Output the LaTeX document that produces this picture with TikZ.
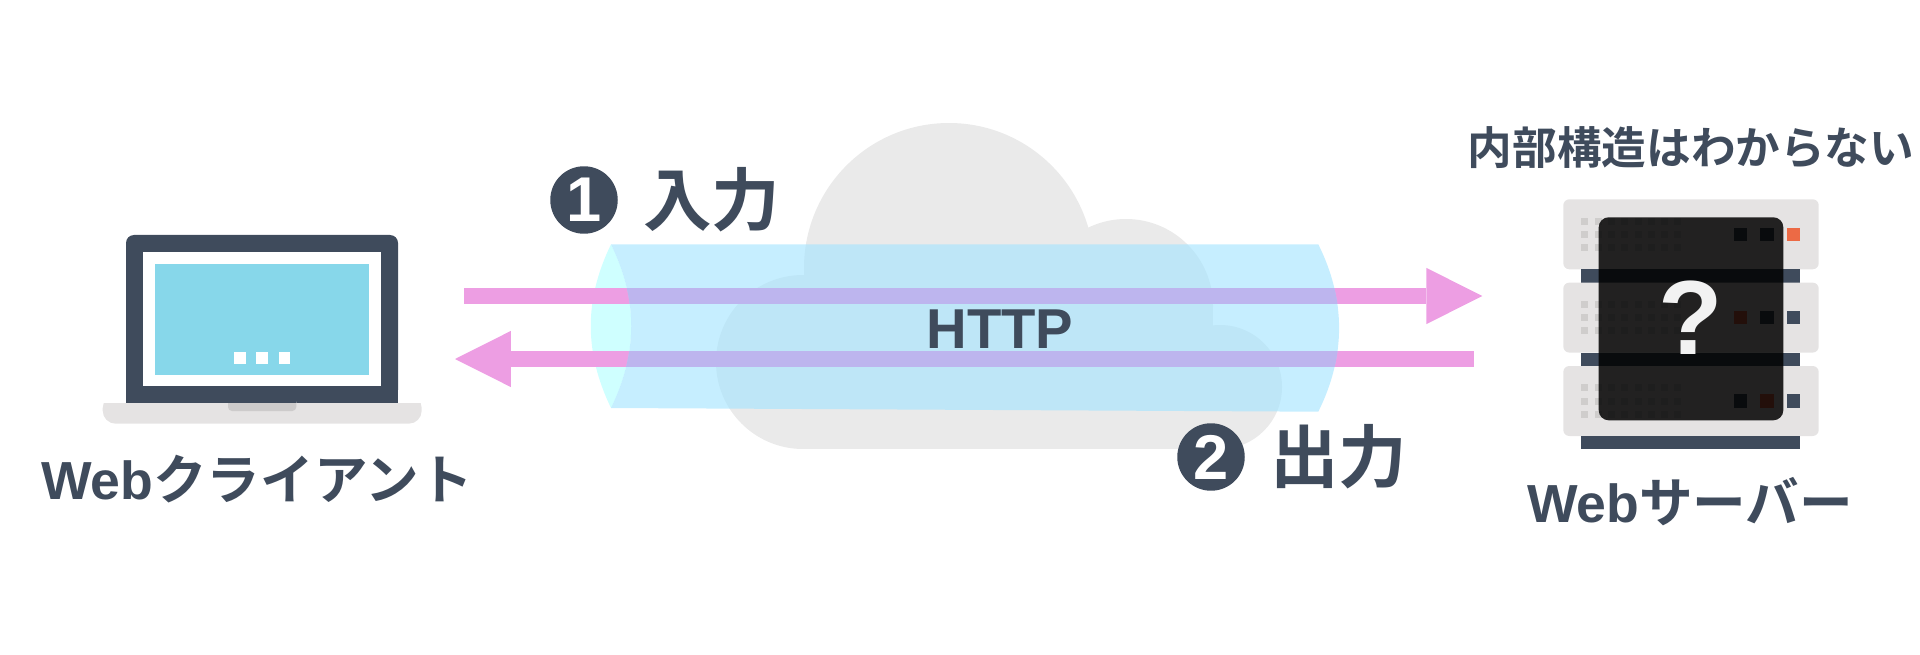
\documentclass[tikz,border=0pt]{standalone}
\usepackage{fontspec}
\setmainfont{Noto Sans CJK JP}[BoldFont={Noto Sans CJK JP Bold}]
\newfontfamily\latinbold{Liberation Sans Bold}
\usetikzlibrary{arrows.meta,positioning}
\definecolor{SlateNavy} {HTML}{3F4B5C}
\definecolor{ScreenBlue}{HTML}{87D7EA}
\definecolor{BaseGray}  {HTML}{E5E3E3}
\definecolor{NotchGray} {HTML}{CDCBCB}
\definecolor{CloudGray} {HTML}{EAEAEA}
\definecolor{TubeBlue}  {HTML}{A3E4FF}
\definecolor{LensCyan}  {HTML}{CFFFFF}
\definecolor{ArrowPink} {HTML}{ED9EE3}
\definecolor{ArrowLilac}{HTML}{BDB5EE}
\definecolor{DotGray}   {HTML}{CFCDCC}
\definecolor{LedRed}    {HTML}{EC6A45}
\definecolor{MarkWhite} {HTML}{F2F2F2}
\tikzset{
  msgarrow/.style={-{Triangle[length=1.12cm,width=1.126cm,line width=0pt]},line width=3.3mm},
  labeltext/.style={font=\fontsize{30.5}{30.5}\selectfont\bfseries,text=SlateNavy,inner sep=0pt},
  notetext/.style={font=\fontsize{25.4}{25.4}\selectfont\bfseries,text=SlateNavy,inner sep=0pt},
  steptext/.style={font=\fontsize{39}{39}\selectfont\bfseries,text=SlateNavy,inner sep=0pt},
  badge/.style={circle,fill=SlateNavy,text=white,minimum size=1.35cm,inner sep=0pt,
    font=\fontsize{36}{36}\selectfont\latinbold},
}
\begin{document}
\begin{tikzpicture}[x=0.02cm,y=-0.02cm]
  \useasboundingbox (0,0) rectangle (1920,655);
  % cloud
  \fill[CloudGray] (949,268) circle[radius=145];
  \fill[CloudGray] (1126,306) circle[radius=87];
  \fill[CloudGray] (803,362) circle[radius=87];
  \fill[CloudGray] (1220,387) circle[radius=62];
  \fill[CloudGray] (804,306) rectangle (1213,449);
  % laptop
  \fill[SlateNavy,rounded corners=0.16cm] (126,420) -- (126,235) -- (398,235) -- (398,420) -- cycle;
  \fill[white] (143.3,252.3) rectangle (380.7,386);
  \fill[ScreenBlue] (154.7,263.7) rectangle (369.3,374.7);
  \foreach \sx in {234,256.3,278.7}
    \fill[white] (\sx,352.3) rectangle ++(11.7,11.4);
  \fill[BaseGray,rounded corners=0.26cm] (102.7,395) -- (102.7,423.7) -- (421.7,423.7) -- (421.7,395) -- cycle;
  \fill[white] (100,390) rectangle (126,403.3);
  \fill[white] (398,390) rectangle (424,403.3);
  \fill[SlateNavy] (126,395) rectangle (398,403.3);
  \fill[NotchGray,rounded corners=0.08cm] (228,398) -- (228,411) -- (296.3,411) -- (296.3,398) -- cycle;
  \fill[SlateNavy] (228,395) rectangle (296.3,403.3);
  % server
  \foreach \ry/\ledA/\ledB/\ledC in {0/SlateNavy/SlateNavy/LedRed,83.3/LedRed/SlateNavy/SlateNavy,166.7/SlateNavy/LedRed/SlateNavy}{
    \begin{scope}[yshift={-0.02cm*\ry}]
      \fill[BaseGray,rounded corners=0.12cm] (1563.3,199.3) rectangle (1818.7,269.3);
      \fill[SlateNavy] (1581.3,269.3) rectangle (1800.3,282.7);
      \foreach \dx in {0,...,7}
        \foreach \dy in {0,1,2}
          \fill[DotGray] ({1581.3+13.3*\dx},{217.7+13.2*\dy}) rectangle ++(7,7);
      \fill[\ledA] (1734,227.7) rectangle ++(13.3,13.3);
      \fill[\ledB] (1760.3,227.7) rectangle ++(13.3,13.3);
      \fill[\ledC] (1787,227.7) rectangle ++(13.3,13.3);
    \end{scope}
  }
  \fill[black,opacity=.85,rounded corners=0.2cm] (1598.7,217.3) rectangle (1783.3,420.3);
  \node[inner sep=0pt,text=MarkWhite,font=\fontsize{60}{60}\selectfont\latinbold] (mark) at (1690.5,318) {?};
  % tube
  \fill[LensCyan] (611,244.3) .. controls (584,300) and (584,352) .. (611,408)
    .. controls (638,352) and (638,300) .. (611,244.3) -- cycle;
  \coordinate (reqStart) at (464,296);
  \coordinate (reqEnd) at (1482.3,296);
  \coordinate (resStart) at (1473.7,359);
  \coordinate (resEnd) at (455,359);
  \draw[msgarrow,ArrowPink] (reqStart) -- (reqEnd);
  \draw[msgarrow,ArrowPink] (resStart) -- (resEnd);
  \fill[TubeBlue,opacity=.62] (611,244.3) -- (1318.3,244.3)
    .. controls (1346,300) and (1346,356) .. (1318.3,411.7)
    -- (611,408) .. controls (638,352) and (638,300) .. (611,244.3) -- cycle;
  \begin{scope}
    \clip (611,244.3) -- (1318.3,244.3)
      .. controls (1346,300) and (1346,356) .. (1318.3,411.7)
      -- (611,408) .. controls (638,352) and (638,300) .. (611,244.3) -- cycle;
    \draw[line width=3.3mm,ArrowLilac] (reqStart) -- (reqEnd);
    \draw[line width=3.3mm,ArrowLilac] (resStart) -- (resEnd);
  \end{scope}
  \node[inner sep=0pt,text=SlateNavy,font=\fontsize{32}{32}\selectfont\latinbold] (http) at (1000,329) {HTTP};
  % labels
  \node[labeltext] (client) at (257,479) {{\latinbold Web}クライアント};
  \node[labeltext] (server) at (1690,502) {{\latinbold Web}サーバー};
  \node[notetext] (inner) at (1691,148) {内部構造はわからない};
  \node[badge] (one) at (584,200) {1};
  \node[steptext,right=0.5cm of one] (input) {入力};
  \node[badge] (two) at (1211,457) {2};
  \node[steptext,right=0.5cm of two] (output) {出力};
\end{tikzpicture}
\end{document}
